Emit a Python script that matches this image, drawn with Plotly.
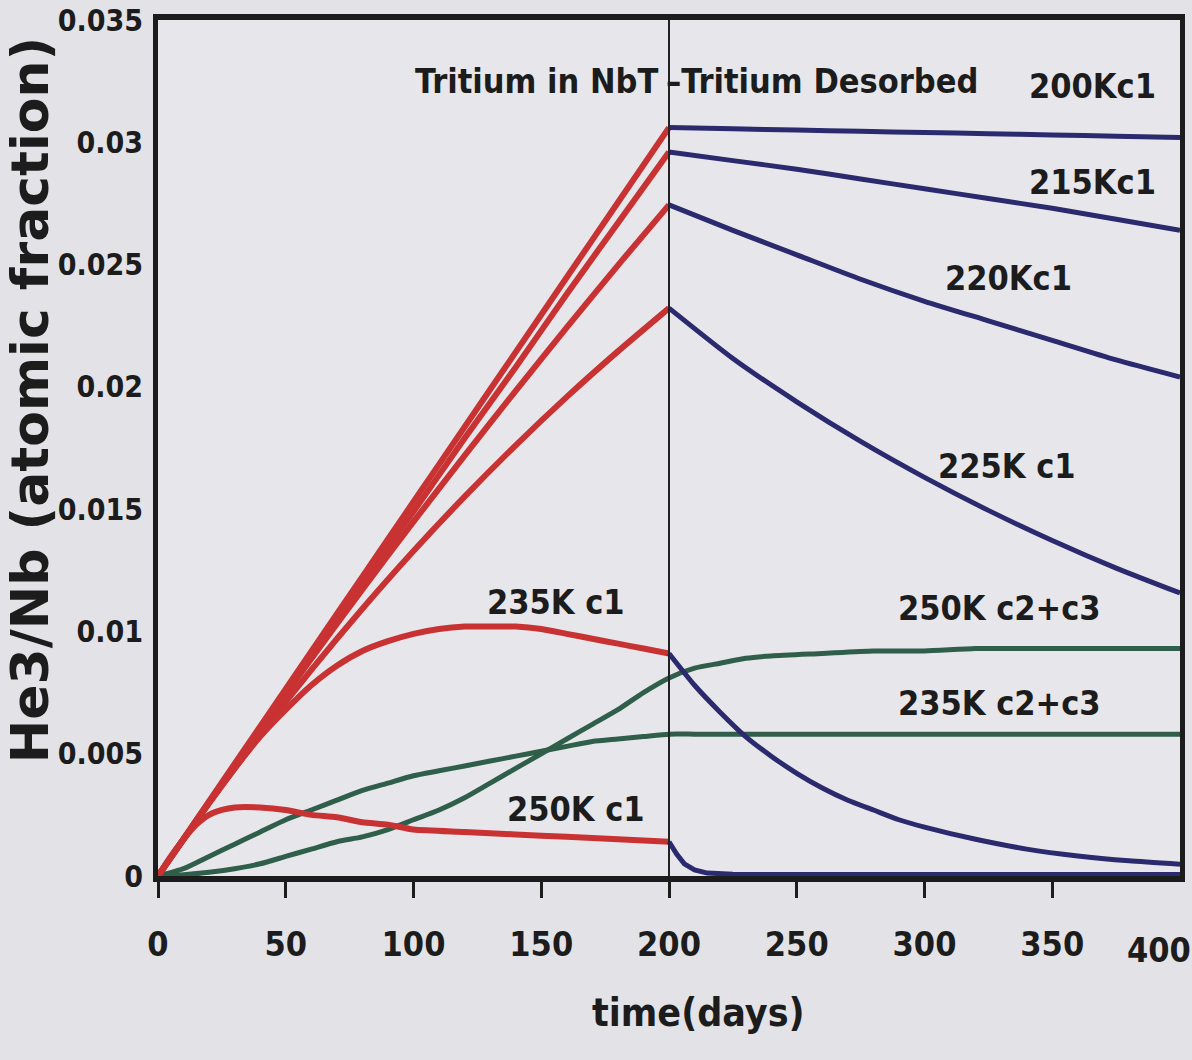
import plotly.graph_objects as go

# ---------------- data ----------------
t_red = [0, 20, 40, 60, 80, 100, 120, 140, 160, 180, 200]
red_200K = [0, 0.00306, 0.00612, 0.00918, 0.01224, 0.0153, 0.01836, 0.02142, 0.02448, 0.02754, 0.0306]
red_215K = [0, 0.0030, 0.0060, 0.0090, 0.0120, 0.0149, 0.0179, 0.0208, 0.0238, 0.0267, 0.0296]
red_220K = [0, 0.00303, 0.00599, 0.00888, 0.01172, 0.01449, 0.01719, 0.01984, 0.02243, 0.02497, 0.02744]
red_225K = [0, 0.00297, 0.00578, 0.00843, 0.01093, 0.01329, 0.01551, 0.01761, 0.01959, 0.02145, 0.02322]

t_235c1 = [0, 10, 20, 30, 40, 50, 60, 70, 80, 90, 100, 110, 120, 130, 140, 150, 160, 170, 180, 190, 200]
red_235K = [0, 0.0015, 0.0030, 0.0044, 0.0057, 0.0068, 0.0078, 0.0086, 0.0092, 0.0096, 0.0099,
            0.0101, 0.0102, 0.0102, 0.0102, 0.0101, 0.0099, 0.0097, 0.0095, 0.0093, 0.0091]

t_250c1 = [0, 5, 10, 15, 20, 25, 30, 40, 50, 60, 70, 80, 90, 100, 120, 140, 160, 180, 200]
red_250K = [0, 0.0008, 0.0015, 0.0021, 0.0025, 0.0027, 0.0028, 0.0028, 0.0027, 0.0025, 0.0024,
            0.0022, 0.0021, 0.0019, 0.0018, 0.0017, 0.0016, 0.0015, 0.0014]

t_blue = [200, 225, 250, 275, 300, 325, 350, 375, 400]
blue_200K = [0.0306, 0.03055, 0.0305, 0.03045, 0.0304, 0.03035, 0.0303, 0.03025, 0.0302]
blue_215K = [0.0296, 0.02925, 0.0289, 0.0285, 0.0281, 0.0277, 0.0273, 0.02685, 0.0264]
blue_220K = [0.02744, 0.0264, 0.0254, 0.0244, 0.0235, 0.0227, 0.0219, 0.0211, 0.0204]
blue_225K = [0.02322, 0.02116, 0.01939, 0.01777, 0.0163, 0.01495, 0.01372, 0.01259, 0.01157]

t_blue235 = [200, 210, 220, 230, 240, 250, 260, 270, 280, 290, 300, 320, 340, 360, 380, 400]
blue_235K = [0.0091, 0.0078, 0.0067, 0.0057, 0.0049, 0.0042, 0.0036, 0.0031, 0.0027, 0.0023,
             0.0020, 0.0015, 0.0011, 0.00082, 0.00062, 0.00048]

t_blue250 = [200, 203, 206, 210, 215, 225, 250, 300, 350, 400]
blue_250K = [0.0014, 0.0009, 0.0005, 0.00025, 0.00012, 0.00007, 0.00006, 0.00006, 0.00006, 0.00006]

t_green = [0, 10, 20, 30, 40, 50, 60, 70, 80, 90, 100, 110, 120, 130, 140, 150, 160, 170, 180,
           190, 200, 210, 220, 230, 240, 260, 280, 300, 320, 350, 400]
green_250K = [0, 0.00005, 0.00015, 0.0003, 0.0005, 0.0008, 0.0011, 0.0014, 0.0016, 0.0019, 0.0023,
              0.0027, 0.0032, 0.0038, 0.0044, 0.0050, 0.0056, 0.0062, 0.0068, 0.0075, 0.0081,
              0.0085, 0.0087, 0.0089, 0.0090, 0.0091, 0.0092, 0.0092, 0.0093, 0.0093, 0.0093]
green_235K = [0, 0.0003, 0.0008, 0.0013, 0.0018, 0.0023, 0.0027, 0.0031, 0.0035, 0.0038, 0.0041,
              0.0043, 0.0045, 0.0047, 0.0049, 0.0051, 0.0053, 0.0055, 0.0056, 0.0057, 0.0058,
              0.0058, 0.0058, 0.0058, 0.0058, 0.0058, 0.0058, 0.0058, 0.0058, 0.0058, 0.0058]

x_ticks = [0, 50, 100, 150, 200, 250, 300, 350]
y_ticks = [0, 0.005, 0.01, 0.015, 0.02, 0.025, 0.03, 0.035]
y_ticktext = ["0", "0.005", "0.01", "0.015", "0.02", "0.025", "0.03", "0.035"]

labels = [
    ("Tritium in NbT", 196.5, 0.0325, "right"),
    ("\u2013Tritium Desorbed", 198.0, 0.0325, "left"),
    ("200Kc1", 391.5, 0.0323, "right"),
    ("215Kc1", 391.5, 0.02838, "right"),
    ("220Kc1", 358.5, 0.02445, "right"),
    ("225K c1", 360.0, 0.01676, "right"),
    ("250K c2+c3", 370.0, 0.01096, "right"),
    ("235K c2+c3", 370.0, 0.00707, "right"),
    ("235K c1", 183.5, 0.0112, "right"),
    ("250K c1", 191.5, 0.00274, "right"),
]

# ---------------- styles ----------------
RED = "#c93232"
BLUE = "#2b2a6e"
GREEN = "#2f5e4a"
NARROW = "Liberation Sans Narrow, Arial Narrow, DejaVu Sans Condensed, sans-serif"
TXT = "#1c1c1c"
FS = 34

fig = go.Figure()

def add(x, y, color, width):
    fig.add_trace(go.Scatter(x=x, y=y, mode="lines",
                             line=dict(color=color, width=width, shape="spline", smoothing=0.6),
                             showlegend=False, hoverinfo="skip"))

for ys in [green_250K, green_235K]:
    add(t_green, ys, GREEN, 5)
for ys in [red_225K, red_220K, red_215K, red_200K]:
    add(t_red, ys, RED, 6)
add(t_235c1, red_235K, RED, 6)
add(t_250c1, red_250K, RED, 6)
for ys in [blue_200K, blue_215K, blue_220K, blue_225K]:
    add(t_blue, ys, BLUE, 5)
add(t_blue235, blue_235K, BLUE, 5)
fig.add_trace(go.Scatter(x=t_blue250, y=blue_250K, mode="lines", line=dict(color=BLUE, width=5),
                         showlegend=False, hoverinfo="skip"))

# vertical separator at 200 days
fig.add_shape(type="line", x0=200, x1=200, y0=0, y1=1, xref="x", yref="paper",
              line=dict(color="#222222", width=2))

for text, x, y, anchor in labels:
    fig.add_annotation(x=x, y=y, xref="x", yref="y", text=text, showarrow=False,
                       xanchor=anchor, yanchor="middle",
                       font=dict(family=NARROW, size=FS, color=TXT, weight="bold"))

# 400 tick label (shifted inside the page like the original)
fig.add_annotation(x=400, y=0, xref="x", yref="y", text="400", showarrow=False,
                   xanchor="right", yanchor="top", xshift=13, yshift=-52,
                   font=dict(family=NARROW, size=FS, color=TXT, weight="bold"))

# axis titles
fig.add_annotation(x=0.529, y=-0.159, xref="paper", yref="paper", text="time(days)", showarrow=False,
                   xanchor="center", yanchor="middle",
                   font=dict(family=NARROW, size=39, color=TXT, weight="bold"))
fig.add_annotation(x=-0.125, y=0.556, xref="paper", yref="paper", text="He3/Nb (atomic fraction)",
                   showarrow=False, textangle=-90, xanchor="center", yanchor="middle",
                   font=dict(family="DejaVu Sans, sans-serif", size=52, color=TXT, weight="bold"))

fig.update_layout(
    width=1192, height=1060,
    margin=dict(l=158, r=12, t=20, b=184),
    paper_bgcolor="#e3e3e7",
    plot_bgcolor="#e7e7eb",
    showlegend=False,
)
fig.update_xaxes(range=[0, 400], tickvals=x_ticks, ticks="outside", ticklen=16, tickwidth=3,
                 tickcolor="#1c1c1c", showgrid=False, zeroline=False, showline=True, linewidth=6,
                 linecolor="#1c1c1c", mirror=True, ticklabelstandoff=17, layer="below traces",
                 automargin=False,
                 tickfont=dict(family=NARROW, size=FS, color=TXT, weight="bold"))
fig.update_yaxes(range=[0, 0.035], tickvals=y_ticks, ticktext=y_ticktext, ticks="", showgrid=False,
                 zeroline=False, showline=True, linewidth=5, linecolor="#1c1c1c", mirror=True,
                 ticklabelstandoff=4, layer="below traces", ticklabeloverflow="allow",
                 automargin=False,
                 tickfont=dict(family=NARROW, size=30, color=TXT, weight="bold"))

fig.write_html("out.html")
